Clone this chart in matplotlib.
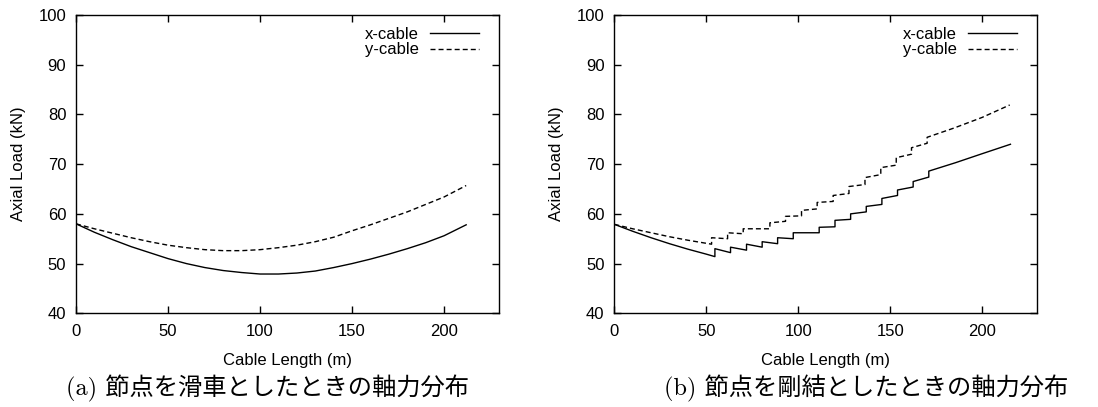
import matplotlib
matplotlib.use('Agg')
import matplotlib.pyplot as plt
from matplotlib.lines import Line2D

# (a) pulley joints - smooth curves
len_a = [0, 10, 20, 30, 40, 50, 60, 70, 80, 90, 100, 110, 120, 130, 140, 150,
         160, 170, 180, 190, 200, 212]
x_cable_a = [58.0, 56.3, 54.8, 53.4, 52.2, 51.0, 50.0, 49.2, 48.6, 48.2, 47.9,
             47.9, 48.1, 48.5, 49.2, 50.0, 50.9, 51.9, 53.0, 54.2, 55.6, 57.8]
y_cable_a = [58.0, 57.0, 56.1, 55.2, 54.4, 53.7, 53.2, 52.8, 52.6, 52.6, 52.8,
             53.2, 53.7, 54.4, 55.3, 56.6, 57.8, 59.1, 60.4, 61.9, 63.4, 65.7]

# (b) rigid joints - stepped curves (repeated x = jump)
len_bx = [0, 10, 20, 30, 40, 50, 54.7, 54.7, 63.2, 63.2, 71.9, 71.9, 80.4, 80.4,
          88.8, 88.8, 97.3, 97.3, 111.4, 111.4, 120.0, 120.0, 128.5, 128.5,
          137.0, 137.0, 145.5, 145.5, 154.0, 154.0, 162.5, 162.5, 171.0, 171.0,
          185.6, 200, 215.4]
x_cable_b = [57.9, 56.5, 55.2, 54.0, 52.9, 51.9, 51.4, 53.0, 52.2, 53.3, 52.7, 53.9,
             53.3, 54.4, 54.0, 55.2, 55.0, 56.2, 56.2, 57.3, 57.4, 58.7, 58.9, 60.0,
             60.4, 61.5, 61.9, 63.1, 63.7, 64.8, 65.4, 66.5, 67.4, 68.6,
             70.3, 72.1, 74.0]
len_by = [0, 10, 20, 30, 40, 52.9, 52.9, 61.6, 61.6, 70.1, 70.1, 84.6, 84.6,
          93.1, 93.1, 101.8, 101.8, 110.3, 110.3, 119.0, 119.0, 127.6, 127.6,
          136.3, 136.3, 144.9, 144.9, 153.3, 153.3, 161.6, 161.6, 170.1, 170.1,
          185, 200, 215]
y_cable_b = [57.9, 57.0, 56.2, 55.4, 54.7, 53.9, 55.2, 55.0, 56.2, 56.0, 57.0, 57.0,
             58.2, 58.5, 59.5, 59.6, 60.7, 61.0, 62.3, 62.5, 63.7, 64.1, 65.5, 65.9,
             67.3, 67.9, 69.3, 69.8, 71.3, 72.0, 73.3, 74.2, 75.4,
             77.3, 79.4, 81.9]

series_labels = ['x-cable', 'y-cable']
x_ticks = [0, 50, 100, 150, 200]
y_ticks = [40, 50, 60, 70, 80, 90, 100]
captions = ['(a) 節点を滑車としたときの軸力分布', '(b) 節点を剛結としたときの軸力分布']

plt.rcParams['font.family'] = ['Liberation Sans', 'DejaVu Sans']
plt.rcParams['font.size'] = 12

W, H = 1098, 407
fig = plt.figure(figsize=(W / 100, H / 100), dpi=100)

ax_a = fig.add_axes([76 / W, 1 - 313.3 / H, 423.3 / W, 298.3 / H])
ax_b = fig.add_axes([614.3 / W, 1 - 313.3 / H, 423.0 / W, 298.3 / H])

dash = (3.6, 2.2)
ax_a.plot(len_a, x_cable_a, color='black', lw=1.0)
ax_a.plot(len_a, y_cable_a, color='black', lw=1.0, dashes=dash)
ax_b.plot(len_bx, x_cable_b, color='black', lw=1.0)
ax_b.plot(len_by, y_cable_b, color='black', lw=1.0, dashes=dash)

handles = [Line2D([], [], color='black', lw=1.0),
           Line2D([], [], color='black', lw=1.0, dashes=dash)]

for ax in (ax_a, ax_b):
    ax.set_xlim(0, 230)
    ax.set_ylim(40, 100)
    ax.set_xticks(x_ticks)
    ax.set_yticks(y_ticks)
    ax.tick_params(direction='in', length=5, width=1.0, top=True, right=True,
                   labelsize=12)
    ax.tick_params(axis='x', pad=8)
    ax.tick_params(axis='y', pad=7)
    for sp in ax.spines.values():
        sp.set_linewidth(1.0)
    ax.set_xlabel('Cable Length (m)', fontsize=12, labelpad=10)
    ax.set_ylabel('Axial Load (kN)', fontsize=12, labelpad=9)
    ax.legend(handles, series_labels, loc='upper right',
              bbox_to_anchor=(0.951, 0.96), frameon=False, markerfirst=False,
              handlelength=2.9, handletextpad=0.7, labelspacing=0.03,
              borderpad=0, borderaxespad=0, fontsize=12)

cap_font = ['cmr10', 'Noto Sans CJK JP']
fig.text(268 / W, 1 - 388 / H, captions[0], ha='center', va='center',
         fontsize=17.5, family=cap_font)
fig.text(866 / W, 1 - 388 / H, captions[1], ha='center', va='center',
         fontsize=17.5, family=cap_font)

fig.savefig('out.png', dpi=100)
